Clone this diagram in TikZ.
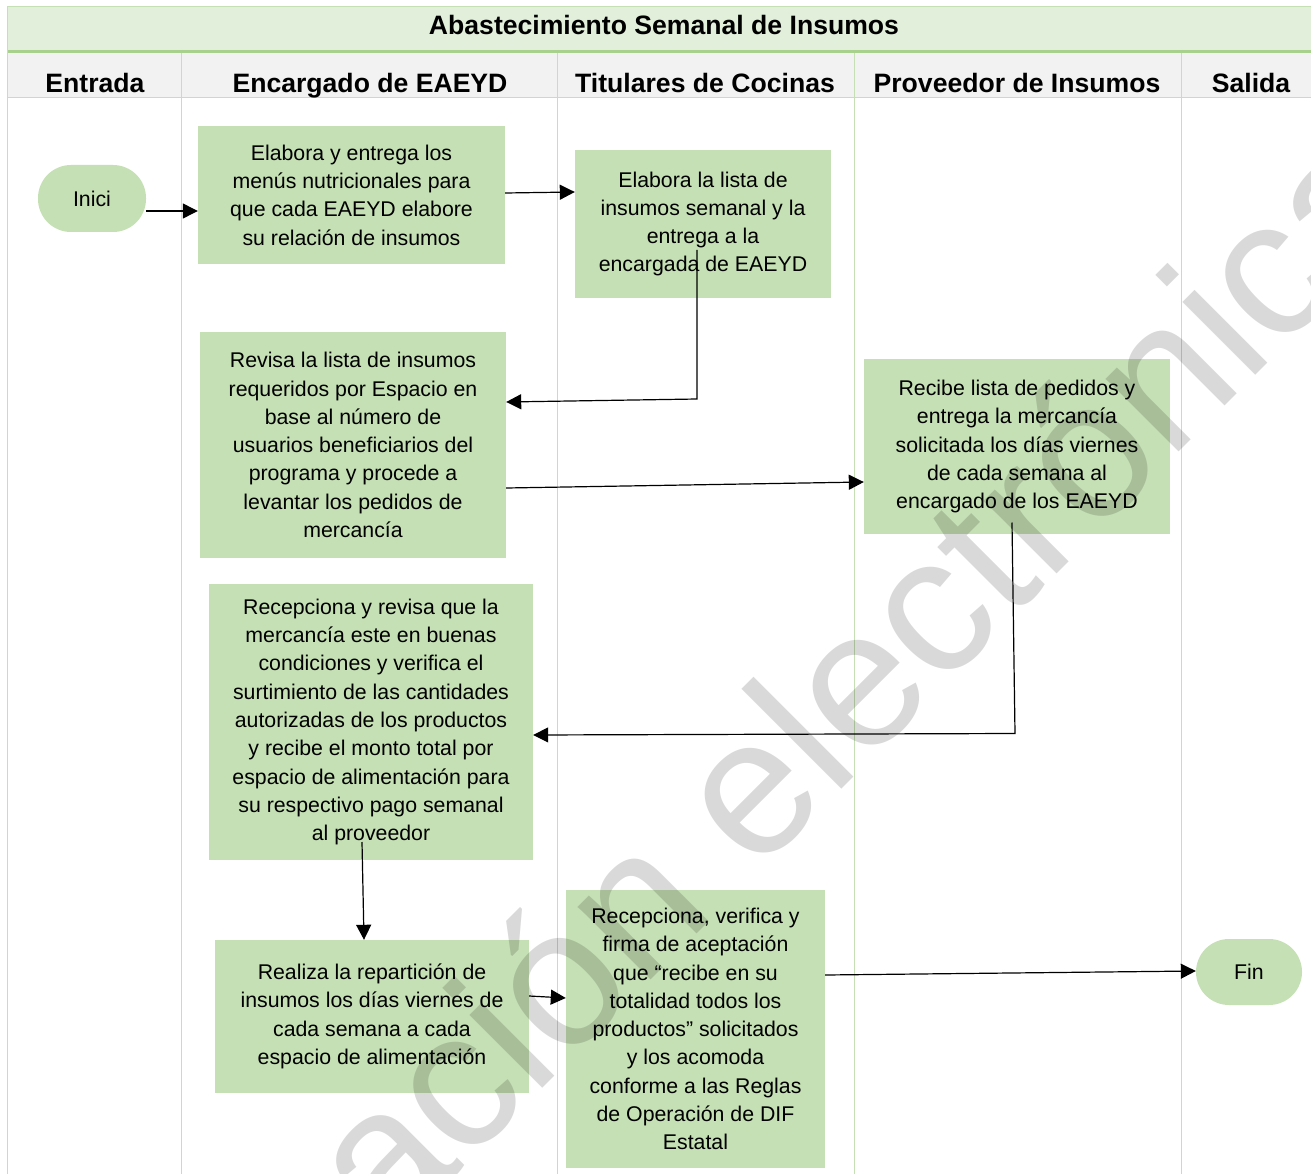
\documentclass[tikz,border=0pt]{standalone}
\usepackage{fontspec}
\setmainfont{Liberation Sans}
\usetikzlibrary{arrows.meta}
\definecolor{boxgreen}{HTML}{C5E0B4}
\definecolor{bandgreen}{HTML}{E2EFDA}
\definecolor{rulegreen}{HTML}{A9D18E}
\definecolor{headgray}{HTML}{F2F2F2}
\definecolor{lanegreen}{HTML}{C5E0B4}

\begin{document}
\begin{tikzpicture}[x=1pt,y=-1pt,
  stepbox/.style={fill=boxgreen, inner sep=0pt, align=center,
    font=\fontsize{21.3}{28.3}\selectfont},
  terminal/.style={stepbox, rounded corners=33pt},
  lanehead/.style={inner sep=0pt, anchor=base, font=\bfseries\fontsize{26.6}{30}\selectfont},
  arr/.style={line width=1.2pt, -{Triangle[length=15pt,width=15pt]}},
  laneline/.style={draw=lanegreen, line width=1pt}]

\useasboundingbox (0,0) rectangle (1311,1174);
\fill[white] (0,0) rectangle (1311,1174);

% title band and lane header row
\fill[bandgreen] (7,7) rectangle (1311,50);
\fill[headgray] (7,53) rectangle (1311,98);
\draw[rulegreen, line width=3pt] (7,51.5) -- (1311,51.5);
\draw[laneline] (7,7) -- (1311,7);
\draw[laneline] (7,7) -- (7,1174);
\draw[laneline] (7,98) -- (1311,98);
\foreach \x in {181,557,854,1181} \draw[laneline] (\x,53) -- (\x,1174);

\node[lanehead] (title) at (664,34.5) {Abastecimiento Semanal de Insumos};
\node[lanehead] (hin)  at (95,92.5)   {Entrada};
\node[lanehead] (hen)  at (370,92.5)  {Encargado de EAEYD};
\node[lanehead] (hti)  at (705,92.5)  {Titulares de Cocinas};
\node[lanehead] (hpr)  at (1017,92.5) {Proveedor de Insumos};
\node[lanehead] (hout) at (1251,92.5) {Salida};

% process steps
\node[terminal, minimum width=108pt, minimum height=67pt] (inici) at (92,198.5) {Inici};
\node[stepbox, minimum width=307pt, minimum height=138pt] (b1) at (351.5,195)
  {Elabora y entrega los\\menús nutricionales para\\que cada EAEYD elabore\\su relación de insumos};
\node[stepbox, minimum width=256pt, minimum height=148pt] (b2) at (703,224)
  {Elabora la lista de\\insumos semanal y la\\entrega a la\\encargada de EAEYD};
\node[stepbox, minimum width=306pt, minimum height=226pt] (b3) at (353,445)
  {Revisa la lista de insumos\\requeridos por Espacio en\\base al número de\\usuarios beneficiarios del\\programa y procede a\\levantar los pedidos de\\mercancía};
\node[stepbox, minimum width=306pt, minimum height=175pt] (b4) at (1017,446.5)
  {Recibe lista de pedidos y\\entrega la mercancía\\solicitada los días viernes\\de cada semana al\\encargado de los EAEYD};
\node[stepbox, minimum width=324pt, minimum height=276pt] (b5) at (371,722)
  {Recepciona y revisa que la\\mercancía este en buenas\\condiciones y verifica el\\surtimiento de las cantidades\\autorizadas de los productos\\y recibe el monto total por\\espacio de alimentación para\\su respectivo pago semanal\\al proveedor};
\node[stepbox, minimum width=314pt, minimum height=153pt] (b6) at (372,1016.5)
  {Realiza la repartición de\\insumos los días viernes de\\cada semana a cada\\espacio de alimentación};
\node[stepbox, minimum width=259pt, minimum height=278pt] (b7) at (695.5,1029)
  {Recepciona, verifica y\\firma de aceptación\\que “recibe en su\\totalidad todos los\\productos” solicitados\\y los acomoda\\conforme a las Reglas\\de Operación de DIF\\Estatal};
\node[terminal, minimum width=106pt, minimum height=66pt] (fin) at (1249,972) {Fin};

% connectors
\draw[arr] (inici.east |- 0,211) -- (b1.west |- 0,211);
\draw[arr] (b1.east |- 0,193) -- (b2.west |- 0,192);
\draw[arr] ([shift={(-6,26)}]b2.center) -- ++(0,149) -- (b3.east |- 0,402);
\draw[arr] (b3.east |- 0,488) -- (b4.west |- 0,482);
\draw[arr] ([shift={(-5,76)}]b4.center) -- ++(3,211) -- (b5.east |- 0,735);
\draw[arr] ([shift={(-9,120)}]b5.center) -- ([xshift=-8pt]b6.north);
\draw[arr] (b6.east |- 0,996) -- (b7.west |- 0,998);
\draw[arr] (b7.east |- 0,975) -- (fin.west |- 0,971);

% diagonal watermark
\begin{scope}
  \clip (0,0) rectangle (1311,1174);
  \node[anchor=base west, rotate=45, inner sep=0pt, text=black, text opacity=0.15,
    font=\fontsize{195}{195}\selectfont] (mark) at (388,1243) {ación electrónica};
\end{scope}
\end{tikzpicture}
\end{document}
